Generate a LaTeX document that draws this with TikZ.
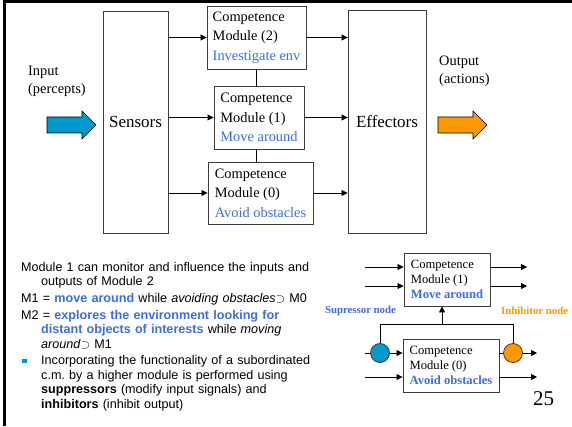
\documentclass[tikz,border=0pt]{standalone}
\usepackage{fontspec}
\setmainfont{Liberation Serif}
\setsansfont{Liberation Sans}
\usetikzlibrary{arrows.meta}
\definecolor{txtblue}{RGB}{60,110,225}
\definecolor{arrblue}{RGB}{0,153,204}
\definecolor{arrorange}{RGB}{255,153,0}
\definecolor{boxline}{RGB}{60,60,60}
\tikzset{bigbox/.style={draw=boxline,line width=0.9pt,font=\fontsize{17}{20}\selectfont},
 module/.style={draw=boxline,line width=0.9pt,align=left,inner sep=2pt,font=\fontsize{14.4}{19.5}\selectfont},
 smallmodule/.style={module,font=\fontsize{12.6}{15}\selectfont},
 conn/.style={-{Triangle[length=6pt,width=6pt]},line width=0.8pt},
 link/.style={line width=0.8pt},
 knot/.style={circle,draw=boxline,line width=0.8pt,minimum size=19pt,inner sep=0pt}}

\begin{document}
\frenchspacing
\begin{tikzpicture}[x=1pt,y=-1pt]
\useasboundingbox (0,0) rectangle (572,427);
\draw[line width=2.5pt] (4.5,426) -- (4.5,1.5) -- (572,1.5);
\foreach \x/\c in {47/arrblue,438/arrorange}
  \draw[fill=\c,line width=0.6pt] (\x,117) -- ++(35,0) -- ++(0,-6) -- ++(14,14) -- ++(-14,14) -- ++(0,-6) -- ++(-35,0) -- cycle;
\node[align=left,anchor=west,inner sep=0pt,font=\fontsize{14.4}{18}\selectfont] (input) at (28,81) {Input\\(percepts)};
\node[align=left,anchor=west,inner sep=0pt,font=\fontsize{14.4}{18}\selectfont] (output) at (439,71.5) {Output\\(actions)};
\node[bigbox,minimum width=65pt,minimum height=222pt] (sensors) at (135.5,122) {Sensors};
\node[bigbox,minimum width=78pt,minimum height=223pt] (effectors) at (387,121.5) {Effectors};
\node[module,minimum width=99pt,minimum height=63pt] (cmtwo) at (256.5,37.5) {Competence\\Module (2)\\\textcolor{txtblue}{Investigate env}};
\node[module,minimum width=90pt,minimum height=63pt] (cmone) at (259,117.5) {Competence\\Module (1)\\\textcolor{txtblue}{Move around}};
\node[module,minimum width=105pt,minimum height=62pt] (cmzero) at (260.5,193) {Competence\\Module (0)\\\textcolor{txtblue}{Avoid obstacles}};
\foreach \m in {cmtwo,cmone,cmzero}{
  \draw[conn] (sensors.east |- \m) -- (\m.west);
  \draw[conn] (\m.east) -- (\m.east -| effectors.west);
}
\draw[link] (cmtwo.south) -- (cmtwo.south |- cmone.north);
\draw[link] (cmtwo.south |- cmone.south) -- (cmtwo.south |- cmzero.north);

\node[anchor=north west,text width=330pt,inner sep=0pt,font=\sffamily\fontsize{12.6}{14.5}\selectfont] (notes) at (21,262) {\setlength{\parskip}{2.1pt}%
\hangindent=20pt\hangafter=1 Module 1 can monitor and influence the inputs and\newline outputs of Module 2\par
M1 = \textcolor{txtblue}{\textbf{move around}} while \textit{avoiding obstacles}$\supset$ M0\par
\hangindent=20pt\hangafter=1 M2 = \textcolor{txtblue}{\textbf{explores the environment looking for}}\newline
\textcolor{txtblue}{\textbf{distant objects of interests}} while \textit{moving}\newline
\textit{around}$\supset$ M1\par
\hangindent=20pt\hangafter=1 \makebox[20pt][l]{\hspace{1pt}\textcolor{arrblue}{\rule[1.5pt]{4.5pt}{4.5pt}}}Incorporating the functionality of a subordinated\newline
c.m. by a higher module is performed using\newline
\textbf{suppressors} (modify input signals) and\newline
\textbf{inhibitors} (inhibit output)\par};

\node[smallmodule,minimum width=86pt,minimum height=53pt] (upper) at (447,279.5) {Competence\\Module (1)\\\textcolor{txtblue}{\textbf{Move around}}};
\node[smallmodule,minimum width=96pt,minimum height=53pt] (lower) at (451,365.5) {Competence\\Module (0)\\\textcolor{txtblue}{\textbf{Avoid obstacles}}};
\node[knot,fill=arrblue] (sup) at (380,353) {};
\node[knot,fill=arrorange] (inh) at (513,353) {};
\coordinate (inone) at (365,267);
\coordinate (intwo) at (365,286);
\coordinate (insup) at (365,353);
\coordinate (infour) at (365,377);
\coordinate (outone) at (527,267);
\coordinate (outtwo) at (527,286);
\coordinate (outinh) at (537,353);
\coordinate (outfour) at (537,377);
\coordinate (tap) at (442,324);
\draw[conn] (inone) -- (inone -| upper.west);
\draw[conn] (intwo) -- (intwo -| upper.west);
\draw[conn] (upper.east |- outone) -- (outone);
\draw[conn] (upper.east |- outtwo) -- (outtwo);
\draw[link] (insup) -- (sup.west);
\draw[conn] (sup.east) -- (sup -| lower.west);
\draw[conn] (infour) -- (infour -| lower.west);
\draw[link] (inh -| lower.east) -- (inh.west);
\draw[conn] (inh.east) -- (outinh);
\draw[conn] (lower.east |- outfour) -- (outfour);
\draw[link] (sup.north) -- (sup |- tap) -- (inh |- tap) -- (inh.north);
\draw[conn] (tap) -- (tap |- upper.south);
\node[text=txtblue,font=\bfseries\fontsize{10.8}{13}\selectfont] (suplabel) at (360.5,311) {Supressor node};
\node[text=arrorange,font=\bfseries\fontsize{10.8}{13}\selectfont,anchor=west,inner sep=0pt] (inhlabel) at (501,311) {Inhibitor node};
\node[font=\fontsize{21}{24}\selectfont] (page) at (543.5,399) {25};
\end{tikzpicture}
\end{document}
